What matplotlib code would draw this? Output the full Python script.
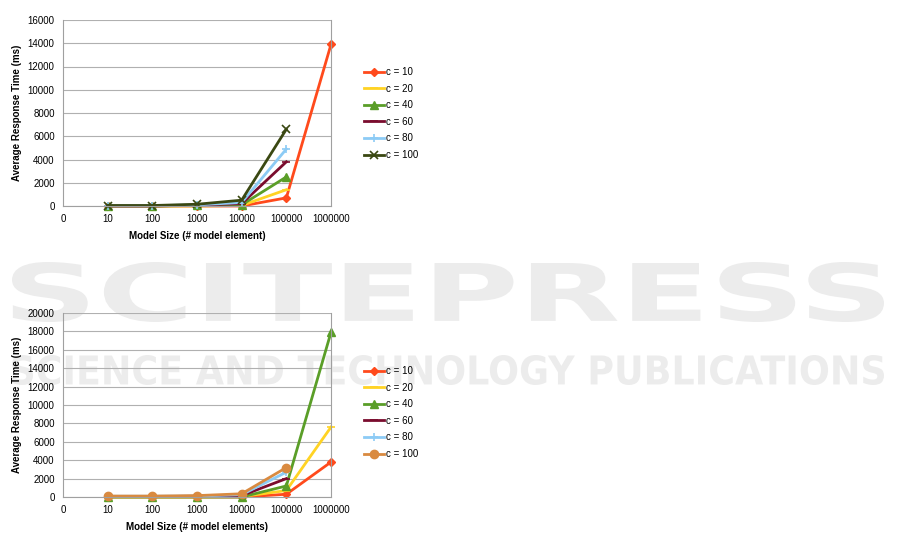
import matplotlib
matplotlib.use("Agg")
import matplotlib.pyplot as plt
import numpy as np
from matplotlib.textpath import TextPath
from matplotlib.patches import PathPatch
from matplotlib.font_manager import FontProperties
from matplotlib.transforms import Affine2D, IdentityTransform

plt.rcParams['font.family'] = ['Liberation Sans', 'DejaVu Sans']

x_labels = ["0", "10", "100", "1000", "10000", "100000", "1000000"]
series_names = ["c = 10", "c = 20", "c = 40", "c = 60", "c = 80", "c = 100"]
nan = np.nan

# Top chart values (positions 10 .. 1000000)
top_c10 = [0, 0, 0, 0, 700, 13900]
top_c20 = [0, 0, 0, 50, 1400, nan]
top_c40 = [0, 0, 50, 100, 2500, nan]
top_c60 = [0, 0, 80, 200, 3800, nan]
top_c80 = [20, 20, 100, 300, 4900, nan]
top_c100 = [40, 40, 150, 500, 6600, nan]

# Bottom chart values
bot_c10 = [0, 0, 0, 0, 300, 3800]
bot_c20 = [0, 0, 0, 50, 700, 7600]
bot_c40 = [0, 0, 0, 0, 1200, 17900]
bot_c60 = [50, 50, 80, 150, 2000, nan]
bot_c80 = [80, 80, 100, 250, 2700, nan]
bot_c100 = [100, 100, 150, 350, 3200, nan]

top_colors = ["#FF4A1C", "#FFD324", "#5A9E28", "#7A0C2E", "#8CCBF5", "#3A4812"]
bot_colors = ["#FF4A1C", "#FFD324", "#5A9E28", "#7A0C2E", "#8CCBF5", "#D98A40"]
top_markers = ["D", "_", "^", "_", "+", "x"]
bot_markers = ["D", "_", "^", "_", "+", "o"]

W, H = 901, 554
fig = plt.figure(figsize=(W / 100, H / 100), dpi=100)

# watermark
def box_text(s, x0, y0, x1, y1, color):
    fp = FontProperties(family='DejaVu Sans', weight='bold')
    tp = TextPath((0, 0), s, size=100, prop=fp)
    ext = tp.get_extents()
    sx = (x1 - x0) / ext.width
    sy = (y1 - y0) / ext.height
    tr = Affine2D().translate(-ext.x0, -ext.y0).scale(sx, sy).translate(x0, H - y1)
    p = PathPatch(tr.transform_path(tp), facecolor=color, edgecolor='none', zorder=-10)
    p.set_transform(IdentityTransform())
    fig.add_artist(p)

box_text("SCITEPRESS", 12, 262, 884, 322, "#ececec")
box_text("SCIENCE AND TECHNOLOGY PUBLICATIONS", 12, 355, 884, 385, "#ececec")

def add_ax(l, r, t, b):
    ax = fig.add_axes([l / W, 1 - b / H, (r - l) / W, (b - t) / H])
    ax.patch.set_alpha(0)
    return ax

ax1 = add_ax(63, 331, 20, 206)
ax2 = add_ax(63, 331, 313, 497)

xpos = np.arange(1, 7)

def draw(ax, data, colors, markers, ymax, xlabel, legend_box):
    for vals, c, m, name in zip(data, colors, markers, series_names):
        ms = {"D": 4, "o": 6, "^": 6, "+": 6, "x": 6, "_": 6}[m]
        ax.plot(xpos, vals, color=c, lw=2.0, marker=m, ms=ms,
                mew=1.2 if m in ("+", "x", "_") else 1,
                label=name, clip_on=False)
    ax.set_xlim(0, 6)
    ax.set_ylim(0, ymax)
    ax.set_xticks(range(7))
    ax.set_xticklabels(x_labels)
    ax.set_yticks(np.arange(0, ymax + 1, 2000))
    ax.tick_params(length=0, labelsize=7, pad=6)
    ax.grid(axis='y', color='#b0b0b0', lw=0.8)
    ax.set_axisbelow(True)
    for s in ax.spines.values():
        s.set_color('#a0a0a0')
        s.set_linewidth(0.8)
    ax.spines['top'].set_visible(False)
    ax.set_xlabel(xlabel, fontsize=7, fontweight='bold', labelpad=5)
    ax.set_ylabel("Average Response Time (ms)", fontsize=7, fontweight='bold', labelpad=4)
    ax.legend(loc='upper left', bbox_to_anchor=legend_box, frameon=False, fontsize=7,
              handlelength=2.1, handletextpad=0.2, labelspacing=0.68, borderaxespad=0,
              borderpad=0)

draw(ax1, [top_c10, top_c20, top_c40, top_c60, top_c80, top_c100], top_colors, top_markers,
     16000, "Model Size (# model element)", ((364 - 63) / 268, (206 - 67) / 186))
draw(ax2, [bot_c10, bot_c20, bot_c40, bot_c60, bot_c80, bot_c100], bot_colors, bot_markers,
     20000, "Model Size (# model elements)", ((364 - 63) / 268, (497 - 366) / 184))

fig.savefig("out.png", dpi=100)
